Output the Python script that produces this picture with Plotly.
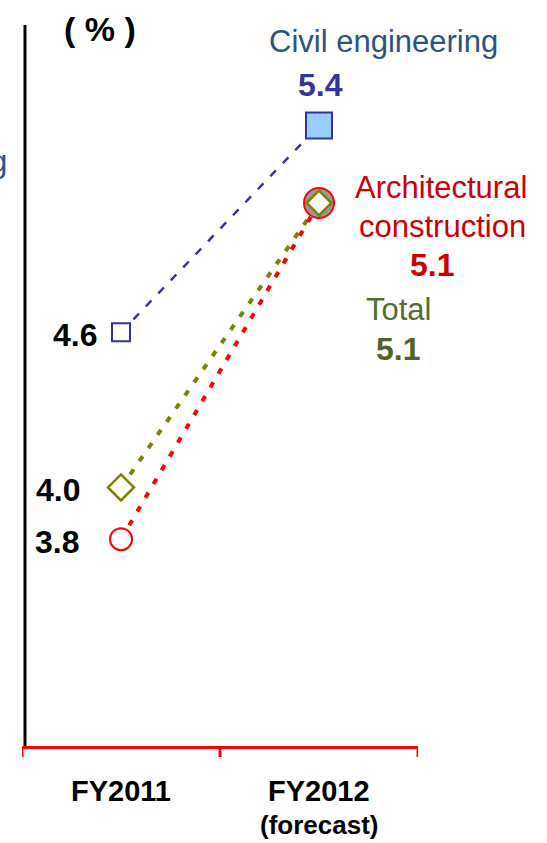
import plotly.graph_objects as go

# Completed construction works: gross profit ratio (%)
years = ["FY2011", "FY2012"]
year_notes = ["", "(forecast)"]
civil = [4.6, 5.4]
architectural = [3.8, 5.1]
total = [4.0, 5.1]

W, H = 547, 843
L, R, T, B = 22, 129, 22, 97
PW, PH = W - L - R, H - T - B


def px(x):
    return (x - L) / PW


def py(y):
    return (H - B - y) / PH


FONT = "Liberation Sans, Arial, sans-serif"
BLUE = "#333399"
NAVY_TXT = "#2A5384"
RED = "#FF0000"
DARKRED = "#CC0000"
OLIVE = "#808000"
OLIVE_TXT = "#556B2F"

fig = go.Figure()

# connecting lines
fig.add_trace(go.Scatter(x=[0, 1], y=civil, mode="lines",
                         line=dict(color=BLUE, width=2.5, dash="8px,10px"),
                         hoverinfo="skip"))
fig.add_trace(go.Scatter(x=[0, 1], y=total, mode="lines",
                         line=dict(color=OLIVE, width=4, dash="6px,10px"),
                         hoverinfo="skip"))
fig.add_trace(go.Scatter(x=[0, 1], y=architectural, mode="lines",
                         line=dict(color=RED, width=4, dash="6px,10px"),
                         hoverinfo="skip"))

# markers
fig.add_trace(go.Scatter(x=[0, 1], y=civil, mode="markers",
                         marker=dict(symbol="square", size=[18, 26], opacity=1,
                                     color=["white", "#99CCFF"],
                                     line=dict(color=BLUE, width=2))))
fig.add_trace(go.Scatter(x=[0, 1], y=architectural, mode="markers",
                         marker=dict(symbol="circle", size=[22, 30], opacity=1,
                                     color=["white", "#999999"],
                                     line=dict(color=RED, width=2))))
fig.add_trace(go.Scatter(x=[0, 1], y=total, mode="markers",
                         marker=dict(symbol="diamond", size=[20, 19], opacity=1,
                                     color=["white", "white"],
                                     line=dict(color=OLIVE, width=2.5))))

ann = []


def label(x, y, text, color, size, dx, dy, bold=True):
    ann.append(dict(xref="x", yref="y", x=x, y=y, text=f"<b>{text}</b>" if bold else text,
                    showarrow=False, xshift=dx, yshift=dy,
                    font=dict(family=FONT, size=size, color=color)))


# FY2011 values
label(0, civil[0], f"{civil[0]:.1f}", "black", 32, -46, -3)
label(0, total[0], f"{total[0]:.1f}", "black", 32, -63, -3)
label(0, architectural[0], f"{architectural[0]:.1f}", "black", 32, -64, -3)

# FY2012 values with segment names
label(1, civil[1], "Civil engineering", NAVY_TXT, 31, 64, 84, bold=False)
label(1, civil[1], f"{civil[1]:.1f}", BLUE, 32, 1, 40)
label(1, architectural[1], "Architectural", DARKRED, 31, 122, 16, bold=False)
label(1, architectural[1], "construction", DARKRED, 31, 123, -23, bold=False)
label(1, architectural[1], f"{architectural[1]:.1f}", DARKRED, 32, 113, -62)
label(1, total[1], "Total", OLIVE_TXT, 31, 79, -106, bold=False)
label(1, total[1], f"{total[1]:.1f}", "#4F6228", 32, 79, -146)

# category labels under the axis
for i, (yr, note) in enumerate(zip(years, year_notes)):
    ann.append(dict(xref="x", yref="paper", x=i, y=py(791), text=f"<b>{yr}</b>",
                    showarrow=False, yanchor="middle",
                    font=dict(family=FONT, size=29, color="black")))
    if note:
        ann.append(dict(xref="x", yref="paper", x=i, y=py(825), text=f"<b>{note}</b>",
                        showarrow=False, yanchor="middle",
                        font=dict(family=FONT, size=26, color="black")))

# unit
ann.append(dict(xref="paper", yref="paper", x=px(100), y=py(29), text="<b>( % )</b>",
                showarrow=False, xanchor="center", yanchor="middle",
                font=dict(family=FONT, size=34, color="black")))
# neighbouring panel's label running in from the left edge
ann.append(dict(xref="paper", yref="paper", x=px(9), y=py(162), text="Civil engineering",
                showarrow=False, xanchor="right", yanchor="middle",
                font=dict(family=FONT, size=31, color=NAVY_TXT)))

fig.update_layout(
    width=W, height=H,
    margin=dict(l=L, r=R, t=T, b=B, pad=0, autoexpand=False),
    paper_bgcolor="white", plot_bgcolor="white",
    showlegend=False,
    annotations=ann,
    shapes=[dict(type="line", xref="paper", yref="paper",
                 x0=px(25), x1=px(25), y0=0, y1=py(25),
                 line=dict(color="black", width=3))],
    xaxis=dict(
        type="linear", range=[-0.5, 1.5],
        showticklabels=False,
        showline=True, linecolor=RED, linewidth=3,
        ticks="", showgrid=False, zeroline=False, automargin=False,
    ),
    yaxis=dict(range=[3.0, 5.8], visible=False, showgrid=False, zeroline=False,
               automargin=False),
)

# boundary ticks below the category axis
for xv in [-0.5, 0.5, 1.5]:
    fig.add_shape(type="line", xref="x", yref="paper", x0=xv, x1=xv, y0=0, y1=-11 / PH,
                  line=dict(color=RED, width=3))

fig.write_html("out.html")
